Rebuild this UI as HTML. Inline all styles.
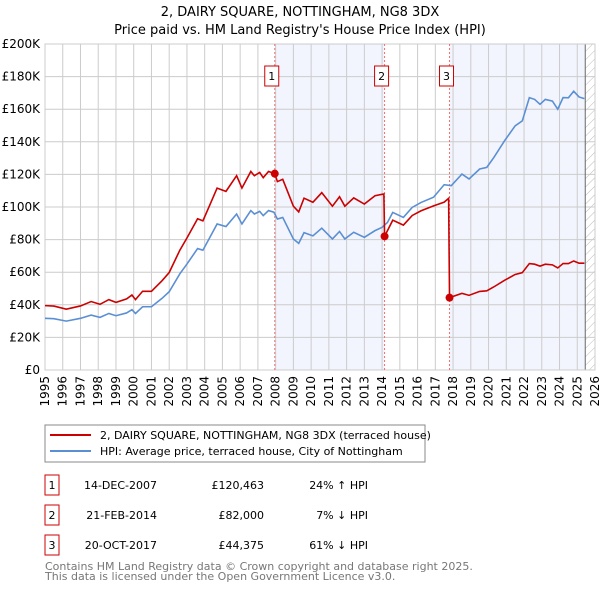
<!DOCTYPE html>
<html><head><meta charset="utf-8"><style>
body{margin:0;background:#fff;font-family:"Liberation Sans","DejaVu Sans",sans-serif;}
svg text{font-family:"DejaVu Sans","Liberation Sans",sans-serif;}
</style></head><body>
<svg id="c" width="600" height="590" xmlns="http://www.w3.org/2000/svg">
<defs><pattern id="hatch" width="6" height="6" patternUnits="userSpaceOnUse" patternTransform="rotate(45)"><line x1="0" y1="0" x2="0" y2="6" stroke="#bbb" stroke-width="1"/></pattern></defs>
<text x="300" y="16" text-anchor="middle" font-size="13">2, DAIRY SQUARE, NOTTINGHAM, NG8 3DX</text>
<text x="300" y="34" text-anchor="middle" font-size="13">Price paid vs. HM Land Registry's House Price Index (HPI)</text>
<g id="plot"></g>
<rect x="45" y="425" width="380" height="37" fill="#fff" stroke="#888"/>
<line x1="50" y1="435" x2="91" y2="435" stroke="#cc0000" stroke-width="2"/>
<text x="100" y="439" font-size="11">2, DAIRY SQUARE, NOTTINGHAM, NG8 3DX (terraced house)</text>
<line x1="50" y1="451" x2="91" y2="451" stroke="#5b8fd4" stroke-width="2"/>
<text x="100" y="455" font-size="11">HPI: Average price, terraced house, City of Nottingham</text>
<g font-size="11">
<rect x="45" y="475" width="14" height="20" fill="#fff" stroke="#cc0000"/><text x="52" y="489" text-anchor="middle">1</text>
<text x="157" y="489" text-anchor="end">14-DEC-2007</text><text x="264" y="489" text-anchor="end">£120,463</text><text x="368" y="489" text-anchor="end">24% ↑ HPI</text>
<rect x="45" y="505" width="14" height="20" fill="#fff" stroke="#cc0000"/><text x="52" y="519" text-anchor="middle">2</text>
<text x="157" y="519" text-anchor="end">21-FEB-2014</text><text x="264" y="519" text-anchor="end">£82,000</text><text x="368" y="519" text-anchor="end">7% ↓ HPI</text>
<rect x="45" y="535" width="14" height="20" fill="#fff" stroke="#cc0000"/><text x="52" y="549" text-anchor="middle">3</text>
<text x="157" y="549" text-anchor="end">20-OCT-2017</text><text x="264" y="549" text-anchor="end">£44,375</text><text x="368" y="549" text-anchor="end">61% ↓ HPI</text>
</g>
<text x="45" y="570" font-size="11" fill="#777">Contains HM Land Registry data © Crown copyright and database right 2025.</text>
<text x="45" y="580" font-size="11" fill="#777">This data is licensed under the Open Government Licence v3.0.</text>
</svg>
<script>
const hpiYears=[1995,1995.5,1996.2,1997,1997.6,1998.1,1998.6,1999,1999.6,1999.9,2000.1,2000.5,2001,2001.6,2002,2002.6,2003,2003.6,2003.9,2004.3,2004.7,2005.2,2005.8,2006.1,2006.6,2006.8,2007.1,2007.3,2007.6,2007.9,2008.1,2008.4,2009,2009.3,2009.6,2010.1,2010.6,2011.2,2011.6,2011.9,2012.4,2013,2013.6,2014,2014.3,2014.6,2015.2,2015.7,2016.2,2016.9,2017.5,2017.9,2018.5,2018.9,2019.5,2019.9,2020.3,2020.9,2021.5,2021.9,2022.3,2022.6,2022.9,2023.2,2023.6,2023.9,2024.2,2024.5,2024.8,2025.1,2025.4];
const hpiValues=[31.7,31.5,30,31.7,33.7,32.3,34.7,33.3,35,37,34.7,38.8,38.8,44,48,59,65,74.5,73.5,81.5,89.6,88,95.7,89.6,97.8,95.7,97.3,94.7,97.8,96.8,92.6,93.6,80.4,77.7,84.3,82.3,87,80.4,85,80.4,84.5,81.4,85.5,87.5,90.5,96.7,93.6,99.8,102.8,106,113.7,113.1,120.2,117.2,123.3,124.3,130.4,140.6,149.8,152.8,167.1,166,163,166,165,160,167.1,167,171,167.5,166.5];
const redYears=[1995,1995.5,1996.2,1997,1997.6,1998.1,1998.6,1999,1999.6,1999.9,2000.1,2000.5,2001,2001.6,2002,2002.6,2003,2003.6,2003.9,2004.3,2004.7,2005.2,2005.8,2006.1,2006.6,2006.8,2007.1,2007.3,2007.6,2007.95,2008.1,2008.4,2009,2009.3,2009.6,2010.1,2010.6,2011.2,2011.6,2011.9,2012.4,2013,2013.6,2014.1,2014.14,2014.6,2015.2,2015.7,2016.2,2016.9,2017.5,2017.75,2017.8,2018.5,2018.9,2019.5,2019.9,2020.3,2020.9,2021.5,2021.9,2022.3,2022.6,2022.9,2023.2,2023.6,2023.9,2024.2,2024.5,2024.8,2025.1,2025.4];
const redValues=[39.5,39.2,37.3,39.3,42,40.3,43.2,41.5,43.6,46,43.2,48.3,48.3,54.8,59.8,73.5,81,92.8,91.5,101.5,111.6,109.6,119.2,111.6,121.8,119.2,121.2,118,121.8,120.5,115.6,117,100.5,97,105.4,102.9,108.8,100.5,106.3,100.5,105.6,101.8,106.9,108,82,91.9,88.9,94.8,97.7,100.7,103,105.3,44.4,47,45.8,48.2,48.6,51,55,58.6,59.7,65.3,64.9,63.7,64.9,64.5,62.6,65.3,65.3,66.9,65.5,65.5];
const saleYears=[2007.95,2014.14,2017.8];
const saleValues=[120.463,82,44.375];
const saleLabels=["1","2","3"];
const yTicks=[0,20,40,60,80,100,120,140,160,180,200];
const yTickLabels=["£0","£20K","£40K","£60K","£80K","£100K","£120K","£140K","£160K","£180K","£200K"];
const xTicks=[1995,1996,1997,1998,1999,2000,2001,2002,2003,2004,2005,2006,2007,2008,2009,2010,2011,2012,2013,2014,2015,2016,2017,2018,2019,2020,2021,2022,2023,2024,2025,2026];
const X0=45,X1=595,Y0=370,Y1=44,dataEnd=2025.45;
const sx=y=>X0+(y-1995)/31*(X1-X0);
const sy=v=>Y0-v/200*(Y0-Y1);
const NS="http://www.w3.org/2000/svg",g=document.getElementById('plot');
function mk(t,a,p){const e=document.createElementNS(NS,t);for(const k in a)e.setAttribute(k,a[k]);(p||g).appendChild(e);return e;}
let r;
r=mk('rect',{x:sx(saleYears[0]),y:Y1,width:sx(saleYears[1])-sx(saleYears[0]),height:Y0-Y1,fill:'#f2f5fd'});


r=mk('rect',{x:sx(saleYears[2]),y:Y1,width:sx(dataEnd)-sx(saleYears[2]),height:Y0-Y1,fill:'#f2f5fd'});


r=mk('rect',{x:sx(dataEnd),y:Y1,width:X1-sx(dataEnd),height:Y0-Y1,fill:'url(#hatch)'});


yTicks.forEach((v,i)=>{
 const l=mk('line',{x1:X0,x2:X1,y1:sy(v),y2:sy(v),stroke:'#ccc'});
 
 
 const t=mk('text',{x:X0-5,y:sy(v)+4,'text-anchor':'end','font-size':'12'});t.textContent=yTickLabels[i];
 
 
});
xTicks.forEach(y=>{
 const l=mk('line',{x1:sx(y),x2:sx(y),y1:Y1,y2:Y0,stroke:'#ccc'});
 
 
 const t=mk('text',{x:0,y:0,'text-anchor':'end','font-size':'12',transform:`translate(${sx(y)+4},${Y0+6}) rotate(-90)`});t.textContent=y;
 
 
});
r=mk('line',{x1:sx(dataEnd),x2:sx(dataEnd),y1:Y1,y2:Y0,stroke:'#666'});


r=mk('rect',{x:X0,y:Y1,width:X1-X0,height:Y0-Y1,fill:'none',stroke:'#ccc'});


saleYears.forEach((y,i)=>{
 const l=mk('line',{x1:sx(y),x2:sx(y),y1:Y1,y2:Y0,stroke:'#f07070','stroke-dasharray':'2,2'});
 
 
 const b=mk('rect',{x:sx(y)-10,y:66,width:14,height:20,fill:'#fff',stroke:'#cc0000'});
 
 
 const t=mk('text',{x:sx(y)-3,y:80,'text-anchor':'middle','font-size':'11'});t.textContent=saleLabels[i];
 
 
});
let p=mk('polyline',{points:hpiYears.map((y,i)=>sx(y)+','+sy(hpiValues[i])).join(' '),fill:'none',stroke:'#5b8fd4','stroke-width':1.6});


p=mk('polyline',{points:redYears.map((y,i)=>sx(y)+','+sy(redValues[i])).join(' '),fill:'none',stroke:'#cc0000','stroke-width':1.6});


saleYears.forEach((y,i)=>{
 const c=mk('circle',{cx:sx(y),cy:sy(saleValues[i]),r:4,fill:'#cc0000'});
 
 
});
</script>
</body></html>
